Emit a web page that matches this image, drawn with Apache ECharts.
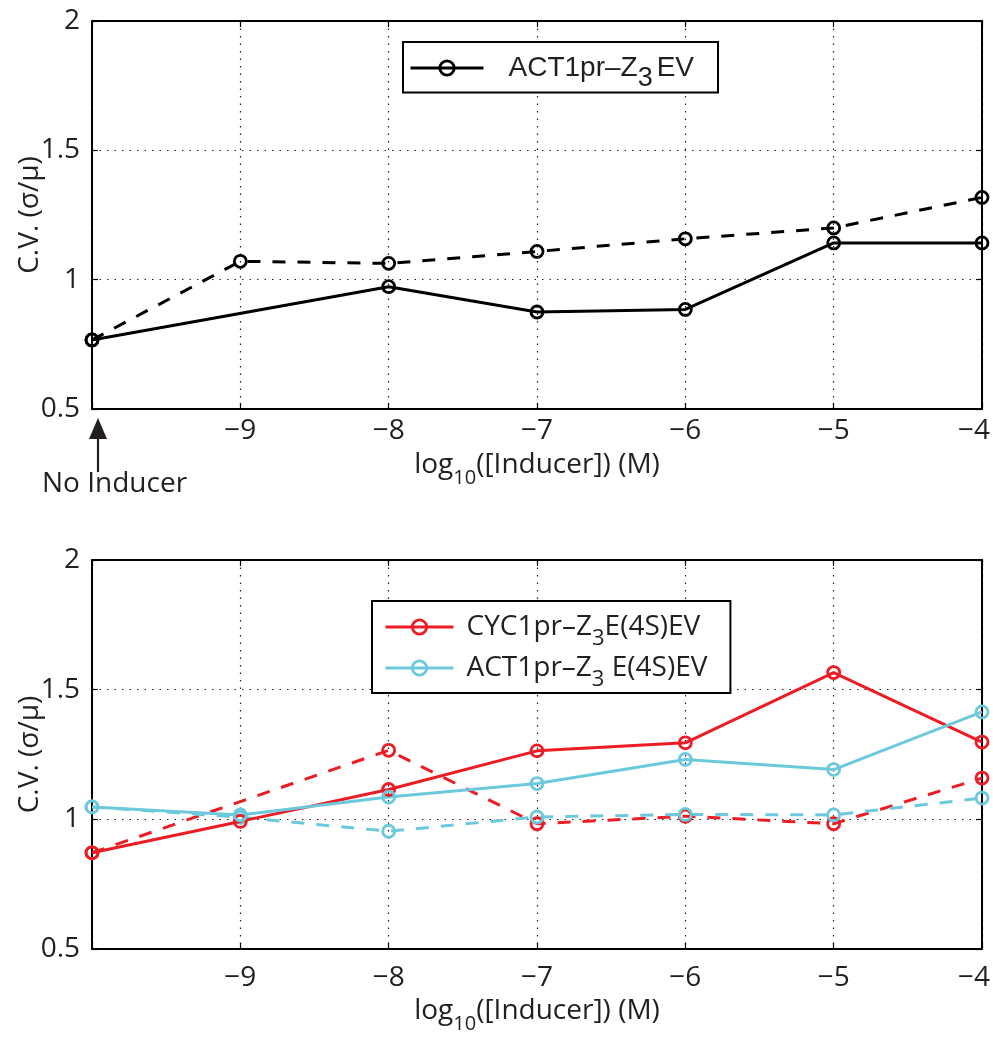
<!DOCTYPE html>
<html>
<head>
<meta charset="utf-8">
<script src="https://cdn.jsdelivr.net/npm/echarts@6/dist/echarts.min.js"></script>
<style>html,body{margin:0;padding:0;background:#fff}#c{width:993px;height:1042px}</style>
</head>
<body>
<div id="c"></div>
<script>
// ---- data ----
const xVals = [-10, -9, -8, -7, -6, -5, -4];
const xTickLabels = ['', '\u22129', '\u22128', '\u22127', '\u22126', '\u22125', '\u22124'];
const yTickVals = [0.5, 1, 1.5, 2];
const yTickLabels = ['0.5', '1', '1.5', '2'];

// top panel: ACT1pr-Z3EV (solid, dashed)
const actZ3Solid  = [0.767, null, 0.973, 0.875, 0.885, 1.142, 1.142];
const actZ3Dashed = [0.767, 1.071, 1.063, 1.109, 1.158, 1.200, 1.318];
// bottom panel
const cycSolid  = [0.871, 0.992, 1.115, 1.264, 1.295, 1.566, 1.298];
const cycDashed = [0.871, null, 1.266, 0.983, 1.012, 0.983, 1.159];
const actSolid  = [1.048, 1.017, 1.086, 1.138, 1.231, 1.192, 1.414];
const actDashed = [1.048, 1.008, 0.954, 1.009, 1.019, 1.017, 1.082];

const topLegendName = 'ACT1pr\u2013Z3EV';
const cycName = 'CYC1pr\u2013Z3E(4S)EV';
const actName = 'ACT1pr\u2013Z3 E(4S)EV';

// ---- styling ----
const FONT = 'Open Sans';
const TXT = '#231f20';
const BLACK = '#000000';
const RED = '#ec1c24';
const CYAN = '#6cc9dc';

const pair = arr => xVals.map((x, i) => [x, arr[i]]);

function mkSeries(name, data, color, dashed, xi, yi) {
  return {
    name: name, type: 'line', xAxisIndex: xi, yAxisIndex: yi,
    data: pair(data), connectNulls: true,
    symbol: 'circle', symbolSize: 12,
    itemStyle: { color: 'rgba(0,0,0,0)', borderColor: color, borderWidth: 2.8 },
    lineStyle: { color: color, width: 3, type: dashed ? [13, 12] : 'solid' },
    emphasis: { disabled: true }, animation: false, z: dashed ? 3 : 4
  };
}

const xNameRich = {
  n: { fontFamily: FONT, fontSize: 28, color: TXT, lineHeight: 40, verticalAlign: 'middle' },
  s: { fontFamily: FONT, fontSize: 20, color: TXT, height: 14, verticalAlign: 'bottom' }
};

const tickRich = {
  t: { fontFamily: FONT, fontSize: 28, color: TXT },
  r: { fontFamily: FONT, fontSize: 28, color: TXT, padding: [0, 16, 0, 0] }
};

function xAxes(grid, labelMargin, nameGap) {
  return [
    {
      type: 'value', gridIndex: grid, position: 'bottom', min: -10, max: -4, interval: 1,
      axisLine: { lineStyle: { color: BLACK, width: 2 } },
      axisTick: { inside: true, length: 6, lineStyle: { color: BLACK, width: 1.2 } },
      axisLabel: { margin: labelMargin, rich: tickRich,
        formatter: v => {
          const i = xVals.indexOf(v);
          if (i < 0 || !xTickLabels[i]) return '';
          return (i === xVals.length - 1 ? '{r|' : '{t|') + xTickLabels[i] + '}';
        } },
      splitLine: { show: true, lineStyle: { color: '#222', width: 1.2, type: [1.5, 6] } },
      name: '{n|log}{s|10}{n|([Inducer]) (M)}', nameLocation: 'middle', nameGap: nameGap,
      nameTextStyle: { rich: xNameRich }
    },
    {
      type: 'value', gridIndex: grid, position: 'top', min: -10, max: -4, interval: 1,
      axisLine: { lineStyle: { color: BLACK, width: 2 } },
      axisTick: { inside: true, length: 6, lineStyle: { color: BLACK, width: 1.2 } },
      axisLabel: { show: false }, splitLine: { show: false }
    }
  ];
}

function yAxes(grid) {
  return [
    {
      type: 'value', gridIndex: grid, position: 'left', min: 0.5, max: 2, interval: 0.5,
      axisLine: { show: true, lineStyle: { color: BLACK, width: 2 } },
      axisTick: { show: true, inside: true, length: 6, lineStyle: { color: BLACK, width: 1.2 } },
      axisLabel: { margin: 12, fontFamily: FONT, fontSize: 28, color: TXT,
        formatter: v => { const i = yTickVals.indexOf(v); return i >= 0 ? yTickLabels[i] : ''; } },
      splitLine: { show: true, lineStyle: { color: '#222', width: 1.2, type: [1.5, 6] } },
      name: 'C.V. (\u03c3/\u03bc)', nameLocation: 'middle', nameGap: 48, nameMoveOverlap: false,
      nameTextStyle: { fontFamily: FONT, fontSize: 28, color: TXT }
    },
    {
      type: 'value', gridIndex: grid, position: 'right', min: 0.5, max: 2, interval: 0.5,
      axisLine: { show: true, lineStyle: { color: BLACK, width: 2 } },
      axisTick: { show: true, inside: true, length: 6, lineStyle: { color: BLACK, width: 1.2 } },
      axisLabel: { show: false }, splitLine: { show: false }
    }
  ];
}

const topLegendRich = {
  g: { width: 20, fontSize: 10 },
  n: { fontFamily: 'Liberation Sans', fontSize: 28, color: TXT, lineHeight: 40, verticalAlign: 'middle' },
  s: { fontFamily: 'Liberation Sans', fontSize: 27, color: TXT, height: 18, verticalAlign: 'bottom', padding: [0, 4, 0, 0] }
};
const botLegendRich = {
  g: { width: 8, fontSize: 10 },
  n: { fontFamily: FONT, fontSize: 28, color: TXT, lineHeight: 40, verticalAlign: 'middle' },
  s: { fontFamily: FONT, fontSize: 22, color: TXT, height: 16, verticalAlign: 'bottom' }
};
function legendFmt(name) {
  const k = name.indexOf('Z3');
  const a = name.slice(0, k + 1), b = name.slice(k + 2);
  return '{g| }{n|' + a + '}{s|3}{n|' + b + '}';
}

const legendIcon = { lineStyle: { width: 3 }, itemStyle: { borderWidth: 2.8 } };

const option = {
  backgroundColor: '#ffffff',
  animation: false,
  grid: [
    { left: 92, top: 21, width: 890, height: 388, show: false, outerBoundsMode: 'none', containLabel: false },
    { left: 92, top: 560, width: 890, height: 389, show: false, outerBoundsMode: 'none', containLabel: false }
  ],
  xAxis: [...xAxes(0, 8, 36), ...xAxes(1, 15, 42)],
  yAxis: [...yAxes(0), ...yAxes(1)],
  legend: [
    Object.assign({
      data: [topLegendName], left: 403, top: 42, orient: 'vertical',
      itemWidth: 73, itemHeight: 18, padding: [12, 24, 0, 6],
      borderColor: BLACK, borderWidth: 2, backgroundColor: '#fff',
      formatter: legendFmt, textStyle: { rich: topLegendRich }, selectedMode: false
    }, legendIcon),
    Object.assign({
      data: [cycName, actName], left: 372, top: 601, orient: 'vertical',
      itemWidth: 68, itemHeight: 18, itemGap: 4, padding: [12, 23, 2, 12],
      borderColor: BLACK, borderWidth: 2, backgroundColor: '#fff',
      formatter: legendFmt, textStyle: { rich: botLegendRich }, selectedMode: false
    }, legendIcon)
  ],
  series: [
    mkSeries(topLegendName + ' (dashed)', actZ3Dashed, BLACK, true, 0, 0),
    mkSeries(topLegendName, actZ3Solid, BLACK, false, 0, 0),
    mkSeries(cycName + ' (dashed)', cycDashed, RED, true, 2, 2),
    mkSeries(actName + ' (dashed)', actDashed, CYAN, true, 2, 2),
    mkSeries(cycName, cycSolid, RED, false, 2, 2),
    mkSeries(actName, actSolid, CYAN, false, 2, 2)
  ],
  graphic: [
    { type: 'polygon', shape: { points: [[98, 418], [89, 439], [107, 439]] }, style: { fill: TXT } },
    { type: 'line', shape: { x1: 98, y1: 436, x2: 98, y2: 472 }, style: { stroke: TXT, lineWidth: 2.2 } },
    { type: 'text', left: 42, top: 470, style: { text: 'No Inducer', font: '28px "Open Sans"', fill: TXT } }
  ]
};

const chart = echarts.init(document.getElementById('c'), null, { renderer: 'canvas' });
chart.setOption(option);
</script>
</body>
</html>
